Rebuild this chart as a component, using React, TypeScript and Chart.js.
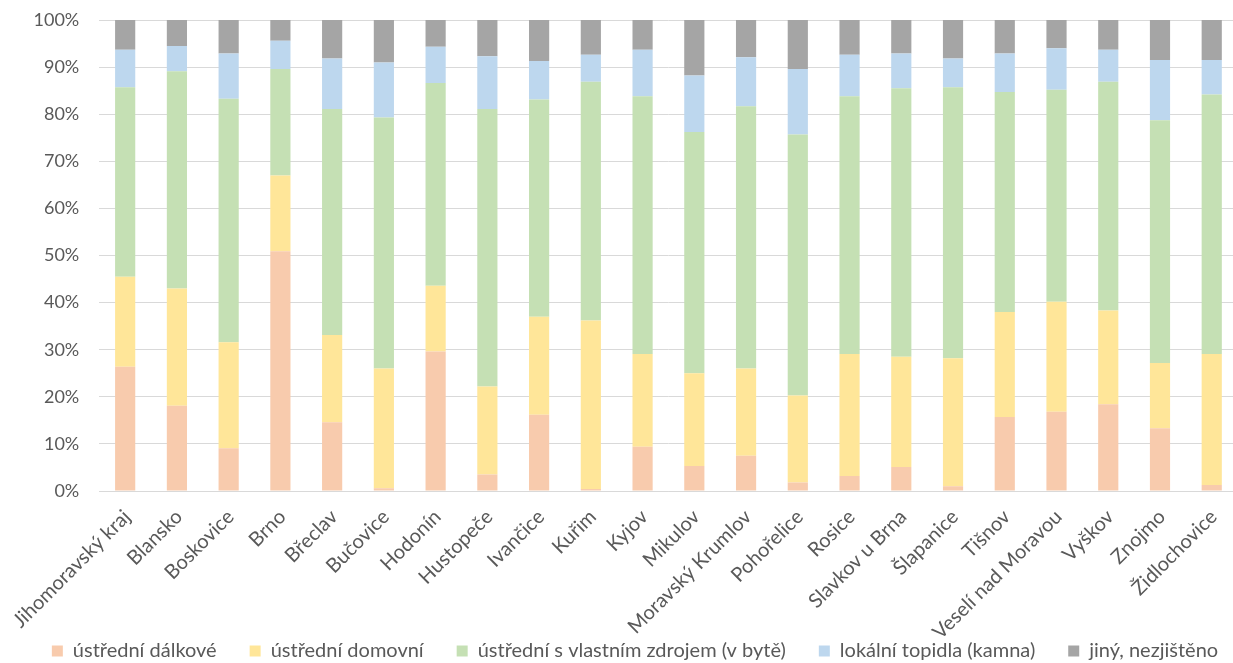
import React, { useEffect, useRef } from "react";
import { Chart, registerables } from "chart.js";

Chart.register(...registerables);

const categories = [
  "Jihomoravský kraj", "Blansko", "Boskovice", "Brno", "Břeclav", "Bučovice", "Hodonín",
  "Hustopeče", "Ivančice", "Kuřim", "Kyjov", "Mikulov", "Moravský Krumlov", "Pohořelice",
  "Rosice", "Slavkov u Brna", "Šlapanice", "Tišnov", "Veselí nad Moravou", "Vyškov",
  "Znojmo", "Židlochovice",
];

const seriesNames = [
  "ústřední dálkové",
  "ústřední domovní",
  "ústřední s vlastním zdrojem (v bytě)",
  "lokální topidla (kamna)",
  "jiný, nezjištěno",
];

const dalkove = [26.4, 18.1, 9.1, 50.9, 14.6, 0.6, 29.6, 3.5, 16.2, 0.4, 9.4, 5.3, 7.5, 1.8, 3.2, 5.1, 1.0, 15.7, 16.8, 18.4, 13.3, 1.3];
const domovni = [19.1, 24.9, 22.5, 16.1, 18.5, 25.4, 14.0, 18.7, 20.8, 35.8, 19.7, 19.7, 18.5, 18.5, 25.9, 23.4, 27.2, 22.3, 23.4, 19.9, 13.9, 27.8];
const vlastni = [40.2, 46.1, 51.7, 22.6, 48.0, 53.3, 43.0, 58.9, 46.1, 50.7, 54.7, 51.2, 55.7, 55.4, 54.7, 57.0, 57.5, 46.7, 45.0, 48.6, 51.5, 55.1];
const lokalni = [8.0, 5.4, 9.6, 6.0, 10.7, 11.7, 7.7, 11.2, 8.2, 5.7, 9.9, 12.0, 10.4, 13.9, 8.8, 7.4, 6.1, 8.2, 8.8, 6.8, 12.8, 7.3];
const jiny = [6.3, 5.5, 7.1, 4.4, 8.2, 9.0, 5.7, 7.7, 8.7, 7.4, 6.3, 11.8, 7.9, 10.4, 7.4, 7.1, 8.2, 7.1, 6.0, 6.3, 8.5, 8.5];

const yTicks = [0, 10, 20, 30, 40, 50, 60, 70, 80, 90, 100];

const colors = ["#F8CBAD", "#FFE699", "#C5E0B4", "#BDD7EE", "#A5A5A5"];

const W = 1270;
const H = 671;

export default function App() {
  const ref = useRef<HTMLCanvasElement | null>(null);

  useEffect(() => {
    if (!ref.current) return;
    const values = [dalkove, domovni, vlastni, lokalni, jiny];
    const chart = new Chart(ref.current, {
      type: "bar",
      data: {
        labels: categories,
        datasets: values.map((v, i) => ({
          label: seriesNames[i],
          data: v,
          backgroundColor: colors[i],
          borderWidth: 0,
          barPercentage: 0.39,
          categoryPercentage: 1,
        })),
      },
      options: {
        responsive: false,
        animation: false,
        layout: { padding: { left: 0, right: 0, top: 20, bottom: 0 } },
        font: { family: "Lato", size: 18 },
        color: "#595959",
        plugins: {
          legend: {
            position: "bottom",
            labels: {
              boxWidth: 11,
              boxHeight: 11,
              padding: 33,
              color: "#595959",
              font: { family: "Lato", size: 20 },
            },
          },
          tooltip: { enabled: false },
        },
        scales: {
          x: {
            stacked: true,
            grid: { display: false, drawTicks: false },
            border: { display: true, color: "#D9D9D9", width: 1 },
            ticks: {
              autoSkip: false,
              minRotation: 45,
              maxRotation: 45,
              padding: 14,
              labelOffset: 2,
              color: "#595959",
              font: { family: "Lato", size: 20 },
            },
            afterFit: (s: any) => {
              s.height = 117;
              s.paddingLeft = 0;
              s.paddingRight = 32.4;
              s._computeLabelArea = () => undefined;
            },
          },
          y: {
            stacked: true,
            min: 0,
            max: 100,
            afterBuildTicks: (s: any) => {
              s.ticks = yTicks.map((v) => ({ value: v }));
            },
            grid: { color: "#D9D9D9", lineWidth: 1, drawTicks: false },
            border: { display: false },
            ticks: {
              padding: 20,
              color: "#595959",
              font: { family: "Lato", size: 18 },
              callback: (v: any) => `${v}%`,
            },
            afterFit: (s: any) => {
              s.width = 99.3;
              s.paddingTop = 0;
              s.paddingBottom = 0;
            },
          },
        },
      },
    });
    return () => chart.destroy();
  }, []);

  return (
    <div style={{ position: "fixed", left: 0, top: 0, width: W, height: H, background: "#fff" }}>
      <canvas ref={ref} width={W} height={H} style={{ display: "block" }} />
    </div>
  );
}
